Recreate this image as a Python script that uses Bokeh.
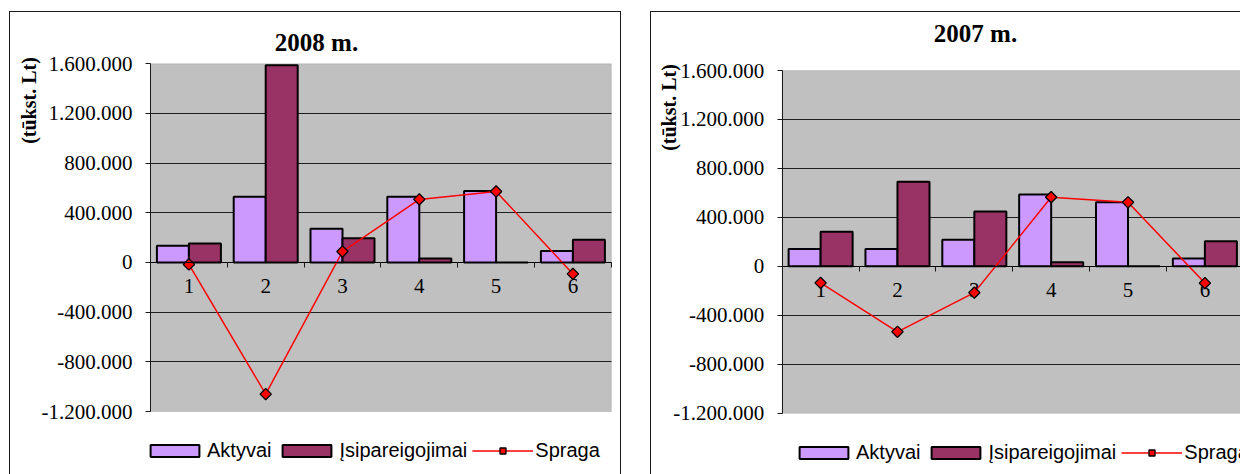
import numpy as np
from bokeh.plotting import figure
from bokeh.models import (ColumnDataSource, Range1d, LinearAxis, FixedTicker, Grid,
                          Legend, LegendItem, Label, BoxAnnotation,
                          CustomJSTickFormatter)
from bokeh.transform import dodge
from bokeh.layouts import row
from bokeh.embed import file_html
from bokeh.resources import INLINE

# --- data -----------------------------------------------------------------
categories = ["1", "2", "3", "4", "5", "6"]

aktyvai_2008 = [134000, 529000, 272000, 529000, 575000, 92000]
isipareigojimai_2008 = [153000, 1589000, 196000, 32000, 0, 183000]
spraga_2008 = [-16000, -1060000, 88000, 508000, 572000, -92000]

aktyvai_2007 = [142000, 142000, 218000, 586000, 523000, 63000]
isipareigojimai_2007 = [283000, 692000, 447000, 33000, 0, 204000]
spraga_2007 = [-135000, -535000, -215000, 565000, 523000, -137000]

series_names = ["Aktyvai", "Įsipareigojimai", "Spraga"]
titles = ["2008 m.", "2007 m."]
y_title = "(tūkst. Lt)"

y_ticks = [-1200000, -800000, -400000, 0, 400000, 800000, 1200000, 1600000]
y_tick_labels = ["-1.200.000", "-800.000", "-400.000", "0",
                 "400.000", "800.000", "1.200.000", "1.600.000"]

Y_MIN, Y_MAX = -1200000, 1600000
SERIF = "Liberation Serif"
SANS = "Liberation Sans"

LOOKUP_JS = """
const i = tick_values.indexOf(tick);
return i >= 0 ? tick_texts[i] : String(tick);
"""


def lookup_formatter(values, texts):
    return CustomJSTickFormatter(args=dict(tick_values=values, tick_texts=texts),
                                 code=LOOKUP_JS)


def make_chart(title, aktyvai, isip, spraga, width, height, margin, area,
               title_px, ylabel_px, legend_loc):
    """area = (left, top, right, bottom) of the plotting area in canvas pixels."""
    n = len(categories)
    a_left, a_top, a_right, a_bottom = area
    cat_px = (a_right - a_left) / n
    val_px = (a_bottom - a_top) / (Y_MAX - Y_MIN)

    def dx(px):
        return 0.5 + (px - a_left) / cat_px

    def dy(py):
        return Y_MAX - (py - a_top) / val_px

    x0, x1 = dx(0), dx(width)
    y0, y1 = dy(height), dy(0)
    x_plot_end = 0.5 + n

    pos = list(range(1, n + 1))
    src = ColumnDataSource(dict(x=pos, aktyvai=aktyvai, isip=isip, spraga=spraga))

    p = figure(width=width, height=height, margin=margin,
               x_range=Range1d(x0, x1), y_range=Range1d(y0, y1),
               x_axis_type=None, y_axis_type=None,
               toolbar_location=None, title_location=None,
               output_backend="svg",
               min_border_left=0, min_border_right=0,
               min_border_top=0, min_border_bottom=0,
               background_fill_color="white", border_fill_color="white",
               outline_line_color=None,
               styles={"outline": "1px solid #1a1a1a"})

    # grey plotting area
    p.add_layout(BoxAnnotation(left=0.5, right=x_plot_end, bottom=Y_MIN, top=Y_MAX,
                               fill_color="#C0C0C0", fill_alpha=1.0,
                               line_color="#8C8C8C", line_width=1,
                               level="image"))

    # horizontal gridlines limited to the plotting area
    grid_ticks = y_ticks[1:-1]
    grid = Grid(dimension=1, ticker=FixedTicker(ticks=grid_ticks),
                grid_line_color="#1e1e1e", grid_line_width=1, level="underlay")
    if "cross_bounds" in Grid.properties():
        grid.cross_bounds = (0.5, x_plot_end)
        p.add_layout(grid)
    else:
        p.segment(x0=[0.5] * len(grid_ticks), x1=[x_plot_end] * len(grid_ticks),
                  y0=grid_ticks, y1=grid_ticks, line_color="#1e1e1e", line_width=1,
                  level="underlay")

    # value axis on the left edge of the plotting area
    ya = LinearAxis(fixed_location=0.5, bounds=(Y_MIN, Y_MAX),
                    ticker=FixedTicker(ticks=y_ticks),
                    formatter=lookup_formatter(y_ticks, y_tick_labels),
                    major_label_text_font=SERIF, major_label_text_font_size="21px",
                    major_label_text_color="black", major_label_standoff=13,
                    major_tick_out=5, major_tick_in=0, minor_tick_line_color=None,
                    axis_line_color="#1a1a1a", major_tick_line_color="#1a1a1a")
    p.add_layout(ya, "left")

    # category axis crossing at zero: boundary ticks
    xa = LinearAxis(fixed_location=0, bounds=(0.5, x_plot_end),
                    ticker=FixedTicker(ticks=[v + 0.5 for v in [0] + pos]),
                    major_label_text_alpha=0, major_label_text_font_size="1px",
                    major_tick_out=5, major_tick_in=0,
                    axis_line_color="black", major_tick_line_color="#1a1a1a",
                    minor_tick_line_color=None)
    p.add_layout(xa, "below")

    # category labels
    xl = LinearAxis(fixed_location=0, ticker=FixedTicker(ticks=pos),
                    formatter=lookup_formatter(pos, categories),
                    major_label_text_font=SERIF, major_label_text_font_size="21px",
                    major_label_text_color="black", major_label_standoff=17,
                    major_tick_out=0, major_tick_in=0, axis_line_alpha=0,
                    major_tick_line_alpha=0, minor_tick_line_color=None,
                    level="underlay")
    p.add_layout(xl, "below")

    r1 = p.vbar(x=dodge("x", -0.2083), top="aktyvai", bottom=0, width=0.4167,
                source=src, fill_color="#CC99FF", line_color="black", line_width=2)
    r2 = p.vbar(x=dodge("x", 0.2083), top="isip", bottom=0, width=0.4167,
                source=src, fill_color="#993366", line_color="black", line_width=2)
    r3 = p.line("x", "spraga", source=src, line_color="#FF0000", line_width=1.5)
    r4 = p.scatter("x", "spraga", source=src, marker="square", angle=np.pi / 4,
                   size=8, fill_color="#FF0000", line_color="black", line_width=1.3)

    legend = Legend(items=[LegendItem(label=series_names[0], renderers=[r1]),
                           LegendItem(label=series_names[1], renderers=[r2]),
                           LegendItem(label=series_names[2], renderers=[r3, r4])],
                    location=legend_loc, orientation="horizontal",
                    glyph_width=61, glyph_height=15, label_standoff=2,
                    spacing=5, padding=0, margin=0,
                    border_line_alpha=0, background_fill_alpha=0,
                    label_text_font=SANS, label_text_font_size="20px",
                    label_text_color="black")
    p.add_layout(legend)

    p.add_layout(Label(x=dx(title_px[0]), y=dy(title_px[1]), text=title,
                       text_font=SERIF, text_font_style="bold",
                       text_font_size="25px", text_align="center",
                       text_baseline="middle", text_color="black"))
    p.add_layout(Label(x=dx(ylabel_px[0]), y=dy(ylabel_px[1]), text=y_title,
                       angle=np.pi / 2, text_font=SERIF, text_font_style="bold",
                       text_font_size="20px", text_align="center",
                       text_baseline="middle", text_color="black"))
    return p


p1 = make_chart(titles[0], aktyvai_2008, isipareigojimai_2008, spraga_2008,
                width=610, height=462, margin=(12, 0, 0, 10),
                area=(140, 51.3, 600.8, 399), title_px=(306, 29.5),
                ylabel_px=(18, 88), legend_loc=(134, 12))

p2 = make_chart(titles[1], aktyvai_2007, isipareigojimai_2007, spraga_2007,
                width=589, height=462, margin=(12, 0, 0, 31),
                area=(130.7, 58, 591.8, 400.7), title_px=(324, 20.5),
                ylabel_px=(17, 95), legend_loc=(142, 10))

layout = row(p1, p2)

open("out.html", "w").write(file_html(layout, INLINE))
